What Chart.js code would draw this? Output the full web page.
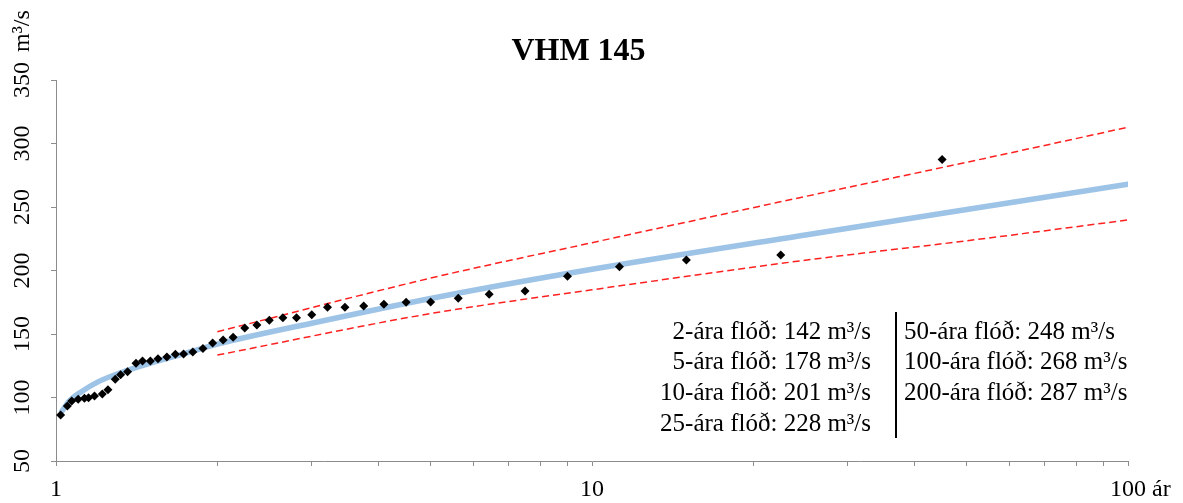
<!DOCTYPE html>
<html>
<head>
<meta charset="utf-8">
<script src="https://cdn.jsdelivr.net/npm/chart.js@4.4.1/dist/chart.umd.min.js"></script>
<style>
  html, body { margin: 0; padding: 0; background: #fff; }
  #wrap { width: 1183px; height: 503px; }
</style>
</head>
<body>
<div id="wrap"><canvas id="floodChart"></canvas></div>
<script>
// return period (years) of each recorded annual flood, ranked
const returnPeriods = [1.02, 1.05, 1.07, 1.1, 1.13, 1.15, 1.18, 1.22, 1.25, 1.29, 1.32, 1.36, 1.41, 1.45, 1.5,
    1.55, 1.61, 1.67, 1.73, 1.8, 1.88, 1.96, 2.05, 2.14, 2.25, 2.37, 2.5, 2.65, 2.81, 3,
    3.21, 3.46, 3.75, 4.09, 4.5, 5, 5.63, 6.43, 7.5, 9, 11.25, 15, 22.5, 45];
const observedFlows = [86.2, 93.3, 97.2, 98.6, 99.4, 99.8, 101.2, 102.8, 106.1, 114.3, 118, 120.3, 126.9, 128.8, 128.8,
    130.6, 131.9, 134, 134.3, 135.8, 138.6, 142.9, 145.3, 147.4, 154.7, 157.1, 160.9, 162.7, 162.8, 165.2,
    171, 171, 172, 173.4, 175, 175.2, 178.1, 181.3, 183.9, 195.4, 203, 208.3, 212.2, 287.5];

// fitted distribution curve
const fitPeriods = [1.025, 1.06, 1.11, 1.2, 1.32, 1.5, 1.75, 2, 3, 5, 10, 25, 50, 100];
const fitFlows = [89, 97.5, 104, 112.5, 119.5, 127, 135, 142, 158.5, 178, 201, 228, 248, 268];

// confidence bounds
const boundPeriods = [2, 5, 10, 25, 50, 100];
const upperFlows = [151.8, 194, 221.9, 258.3, 285.2, 312.8];
const lowerFlows = [133.4, 166.1, 184.8, 208.1, 223.4, 239.8];

// flood estimates shown in the text box
const floodPeriods = [2, 5, 10, 25, 50, 100, 200];
const floodValues = [142, 178, 201, 228, 248, 268, 287];

const xTickValues = [1, 2, 3, 4, 5, 6, 7, 8, 9, 10, 20, 30, 40, 50, 60, 70, 80, 90, 100];
const xLabelValues = [1, 10, 100];
const yTickValues = [50, 100, 150, 200, 250, 300, 350];
const xUnit = 'ár';
const yUnit = 'm³/s';

const serif = '"Liberation Serif", "Times New Roman", serif';
const toPoints = (xs, ys) => xs.map((v, i) => ({ x: v, y: ys[i] }));

// tick labels: number centred on the tick, unit after the last one
const axisLabels = {
    id: 'axisLabels',
    afterDraw(chart) {
        const { ctx, scales: { x, y } } = chart;
        ctx.save();
        ctx.fillStyle = '#000';
        ctx.font = '24px ' + serif;
        ctx.textBaseline = 'middle';
        ctx.textAlign = 'left';
        yTickValues.forEach((v, i) => {
            const num = String(v);
            const w = ctx.measureText(num).width;
            ctx.save();
            ctx.translate(23, y.getPixelForValue(v));
            ctx.rotate(-Math.PI / 2);
            ctx.fillText(num, -w / 2, 0);
            if (i === yTickValues.length - 1) ctx.fillText(yUnit, w / 2 + 10, 0);
            ctx.restore();
        });
        xLabelValues.forEach((v, i) => {
            const num = String(v);
            const w = ctx.measureText(num).width;
            const px = x.getPixelForValue(v);
            ctx.fillText(num, px - w / 2, 490);
            if (i === xLabelValues.length - 1) ctx.fillText(xUnit, px + w / 2 + 6, 490);
        });
        ctx.restore();
    }
};

// text box with the flood estimates
const floodBox = {
    id: 'floodBox',
    afterDraw(chart) {
        const ctx = chart.ctx;
        ctx.save();
        ctx.fillStyle = '#000';
        ctx.font = '25px ' + serif;
        ctx.textBaseline = 'middle';
        floodPeriods.forEach((p, i) => {
            const text = p + '-ára flóð: ' + floodValues[i] + ' m³/s';
            if (i < 4) {
                ctx.textAlign = 'right';
                ctx.fillText(text, 871, 332 + i * 30.7);
            } else {
                ctx.textAlign = 'left';
                ctx.fillText(text, 904, 332 + (i - 4) * 30.7);
            }
        });
        ctx.strokeStyle = '#000';
        ctx.lineWidth = 2;
        ctx.beginPath();
        ctx.moveTo(896, 312);
        ctx.lineTo(896, 438);
        ctx.stroke();
        ctx.restore();
    }
};

new Chart(document.getElementById('floodChart'), {
    type: 'scatter',
    data: {
        datasets: [
            {
                label: 'Mæld flóð',
                data: toPoints(returnPeriods, observedFlows),
                pointStyle: 'rectRot',
                pointRadius: 4.5,
                backgroundColor: '#000',
                borderColor: '#000',
                borderWidth: 0
            },
            {
                label: 'Efri mörk',
                data: toPoints(boundPeriods, upperFlows),
                showLine: true,
                borderColor: '#ff2020',
                borderWidth: 1.5,
                borderDash: [7, 4],
                pointRadius: 0,
                cubicInterpolationMode: 'monotone'
            },
            {
                label: 'Neðri mörk',
                data: toPoints(boundPeriods, lowerFlows),
                showLine: true,
                borderColor: '#ff2020',
                borderWidth: 1.5,
                borderDash: [7, 4],
                pointRadius: 0,
                cubicInterpolationMode: 'monotone'
            },
            {
                label: 'Dreifing',
                data: toPoints(fitPeriods, fitFlows),
                showLine: true,
                borderColor: '#9dc3e6',
                borderWidth: 5.5,
                borderCapStyle: 'round',
                pointRadius: 0,
                cubicInterpolationMode: 'monotone'
            }
        ]
    },
    options: {
        responsive: true,
        maintainAspectRatio: false,
        animation: false,
        layout: { padding: { left: 29, right: 55, top: 0, bottom: 0 } },
        plugins: {
            legend: { display: false },
            tooltip: { enabled: false },
            title: {
                display: true,
                text: 'VHM 145',
                color: '#000',
                font: { family: serif, size: 32, weight: 'bold' },
                padding: { top: 32.8, bottom: 8.8 }
            }
        },
        scales: {
            x: {
                type: 'logarithmic',
                min: 1,
                max: 100,
                afterBuildTicks: scale => {
                    scale.ticks = xTickValues.map(v => ({ value: v }));
                },
                afterFit: scale => { scale.height = 42; },
                ticks: { display: false },
                grid: { drawOnChartArea: false, tickLength: 5, color: '#8c8c8c' },
                border: { color: '#8c8c8c', width: 1 }
            },
            y: {
                min: 50,
                max: 350,
                afterBuildTicks: scale => {
                    scale.ticks = yTickValues.map(v => ({ value: v }));
                },
                afterFit: scale => { scale.width = 27; },
                ticks: { display: false },
                grid: { drawOnChartArea: false, tickLength: 5, color: '#8c8c8c' },
                border: { color: '#8c8c8c', width: 1 }
            }
        }
    },
    plugins: [axisLabels, floodBox]
});
</script>
</body>
</html>
